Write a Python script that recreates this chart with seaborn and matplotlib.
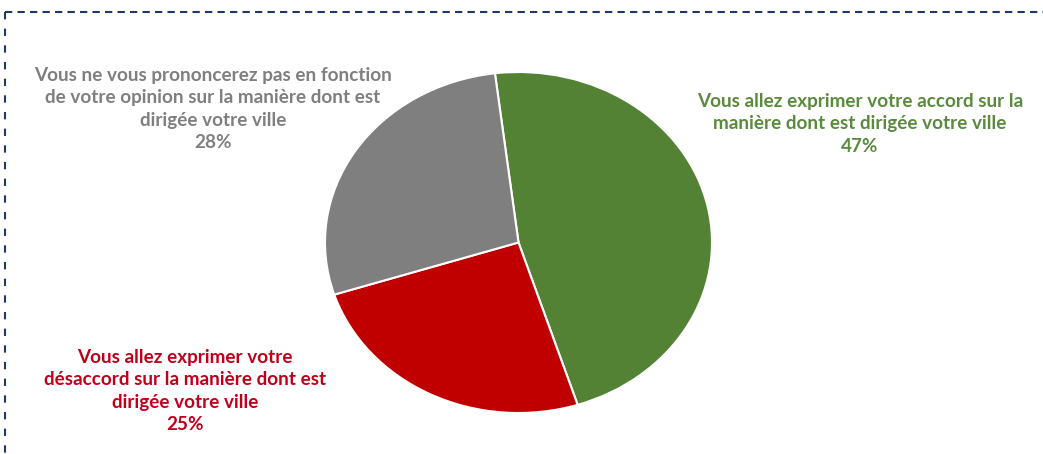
import matplotlib
matplotlib.use("Agg")
import matplotlib.pyplot as plt
from matplotlib.lines import Line2D
import seaborn as sns

# Data
categories = [
    "Vous allez exprimer votre accord sur la\nmanière dont est dirigée votre ville",
    "Vous allez exprimer votre\ndésaccord sur la manière dont est\ndirigée votre ville",
    "Vous ne vous prononcerez pas en fonction\nde votre opinion sur la manière dont est\ndirigée votre ville",
]
values = [47, 25, 28]
colors = ["#548235", "#C00000", "#7F7F7F"]
text_colors = ["#5A8A3C", "#C0001A", "#7F7F7F"]

sns.set_theme(style="white")
plt.rcParams["font.family"] = ["Lato", "DejaVu Sans"]

W, H = 1043, 454
fig = plt.figure(figsize=(W / 100, H / 100), dpi=100)
fig.patch.set_facecolor("white")

# Pie axes (elliptical, stretched as in reference)
left, right, top, bottom = 325, 712, 72, 413
ax = fig.add_axes([left / W, (H - bottom) / H, (right - left) / W, (bottom - top) / H])
ax.pie(values, colors=colors, startangle=97, counterclock=False,
       wedgeprops=dict(edgecolor="white", linewidth=1.5))
ax.set_aspect("auto")
ax.set_xlim(-1, 1)
ax.set_ylim(-1, 1)
ax.axis("off")

# Labels
label_pos = [(860, 124), (185, 391), (213, 109)]
for cat, val, col, (x, y) in zip(categories, values, text_colors, label_pos):
    fig.text(x / W, 1 - y / H, f"{cat}\n{val}%", ha="center", va="center",
             color=col, fontsize=13.6, fontweight="bold", linespacing=1.38)

# Dashed frame
frame_col = "#1F3864"
fig.add_artist(Line2D([5 / W, 1.0], [1 - 12 / H, 1 - 12 / H], transform=fig.transFigure,
                      color=frame_col, linewidth=1.5, linestyle=(0, (3.5, 2.5))))
fig.add_artist(Line2D([5 / W, 5 / W], [1 - 12 / H, 0.0], transform=fig.transFigure,
                      color=frame_col, linewidth=1.5, linestyle=(0, (3.5, 4.5))))

fig.savefig("out.png", dpi=100, facecolor="white")
